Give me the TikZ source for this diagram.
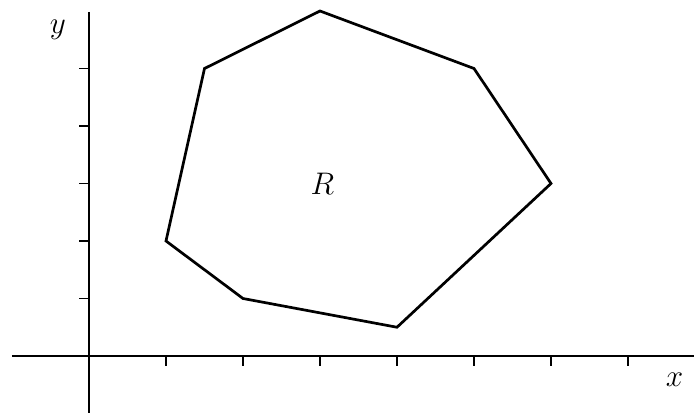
\documentclass[tikz,border=0pt]{standalone}
\begin{document}
\begin{tikzpicture}[x=77pt,y=57.5pt,
  axis/.style={line width=1.5pt},
  region/.style={line width=2.7pt,line join=miter},
  lbl/.style={font=\large,inner sep=0pt,scale=2.6}]
\useasboundingbox (-89pt,-57pt) rectangle (605pt,356pt);
\draw[axis] (-77pt,0) -- (605pt,0);
\draw[axis] (0,344pt) -- (0,-57pt);
\foreach \i in {1,...,7} \draw[axis] (\i,0) -- ++(0,-10pt);
\foreach \j in {1,...,5} \draw[axis] (0,\j) -- ++(-10pt,0);
\draw[region] (3,6) -- (5,5) -- (6,3) -- (4,0.5) -- (2,1) -- (1,2) -- (1.5,5) -- cycle;
\node[lbl] (R) at (233.5pt,172.5pt) {$R$};
\node[lbl] (xl) at (585.5pt,-24pt) {$x$};
\node[lbl] (yl) at (-31pt,326pt) {$y$};
\end{tikzpicture}
\end{document}
